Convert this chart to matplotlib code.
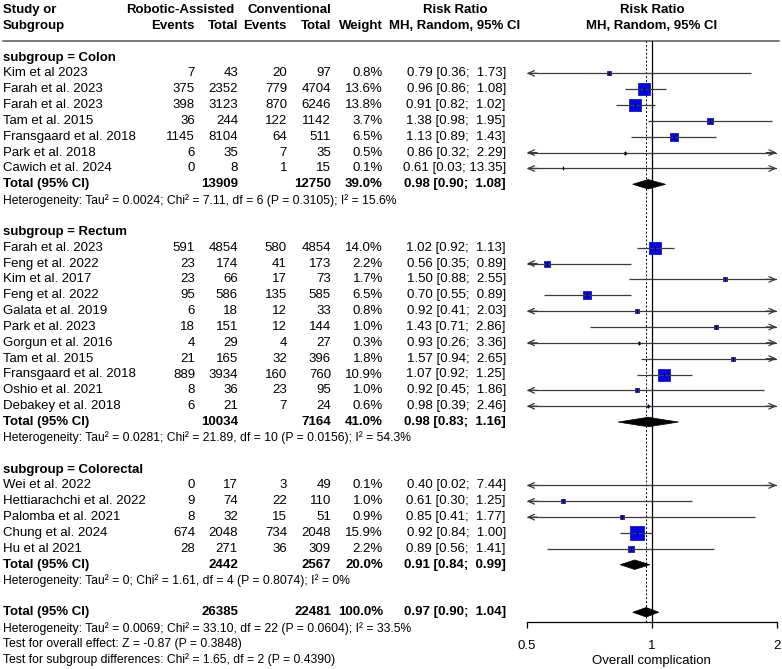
import numpy as np
import matplotlib.pyplot as plt
from matplotlib.patches import Polygon
from matplotlib.ticker import NullLocator, FixedLocator, FixedFormatter

plt.rcParams['font.family'] = ['Liberation Sans', 'DejaVu Sans']

# ───────── DATA ─────────
colon_study  = ["Kim et al 2023", "Farah et al. 2023", "Farah et al. 2023", "Tam et al. 2015",
                "Fransgaard et al. 2018", "Park et al. 2018", "Cawich et al. 2024"]
colon_ev_rob = [7, 375, 398, 36, 1145, 6, 0]
colon_n_rob  = [43, 2352, 3123, 244, 8104, 35, 8]
colon_ev_con = [20, 779, 870, 122, 64, 7, 1]
colon_n_con  = [97, 4704, 6246, 1142, 511, 35, 15]
colon_weight = [0.8, 13.6, 13.8, 3.7, 6.5, 0.5, 0.1]
colon_rr     = [0.79, 0.96, 0.91, 1.38, 1.13, 0.86, 0.61]
colon_lo     = [0.36, 0.86, 0.82, 0.98, 0.89, 0.32, 0.03]
colon_hi     = [1.73, 1.08, 1.02, 1.95, 1.43, 2.29, 13.35]
colon_total  = [13909, 12750, 39.0, 0.98, 0.90, 1.08]
colon_het    = "Heterogeneity: Tau² = 0.0024; Chi² = 7.11, df = 6 (P = 0.3105); I² = 15.6%"

rect_study  = ["Farah et al. 2023", "Feng et al. 2022", "Kim et al. 2017", "Feng et al. 2022",
               "Galata et al. 2019", "Park et al. 2023", "Gorgun et al. 2016", "Tam et al. 2015",
               "Fransgaard et al. 2018", "Oshio et al. 2021", "Debakey et al. 2018"]
rect_ev_rob = [591, 23, 23, 95, 6, 18, 4, 21, 889, 8, 6]
rect_n_rob  = [4854, 174, 66, 586, 18, 151, 29, 165, 3934, 36, 21]
rect_ev_con = [580, 41, 17, 135, 12, 12, 4, 32, 160, 23, 7]
rect_n_con  = [4854, 173, 73, 585, 33, 144, 27, 396, 760, 95, 24]
rect_weight = [14.0, 2.2, 1.7, 6.5, 0.8, 1.0, 0.3, 1.8, 10.9, 1.0, 0.6]
rect_rr     = [1.02, 0.56, 1.50, 0.70, 0.92, 1.43, 0.93, 1.57, 1.07, 0.92, 0.98]
rect_lo     = [0.92, 0.35, 0.88, 0.55, 0.41, 0.71, 0.26, 0.94, 0.92, 0.45, 0.39]
rect_hi     = [1.13, 0.89, 2.55, 0.89, 2.03, 2.86, 3.36, 2.65, 1.25, 1.86, 2.46]
rect_total  = [10034, 7164, 41.0, 0.98, 0.83, 1.16]
rect_het    = "Heterogeneity: Tau² = 0.0281; Chi² = 21.89, df = 10 (P = 0.0156); I² = 54.3%"

cr_study  = ["Wei et al. 2022", "Hettiarachchi et al. 2022", "Palomba et al. 2021",
             "Chung et al. 2024", "Hu et al 2021"]
cr_ev_rob = [0, 9, 8, 674, 28]
cr_n_rob  = [17, 74, 32, 2048, 271]
cr_ev_con = [3, 22, 15, 734, 36]
cr_n_con  = [49, 110, 51, 2048, 309]
cr_weight = [0.1, 1.0, 0.9, 15.9, 2.2]
cr_rr     = [0.40, 0.61, 0.85, 0.92, 0.89]
cr_lo     = [0.02, 0.30, 0.41, 0.84, 0.56]
cr_hi     = [7.44, 1.25, 1.77, 1.00, 1.41]
cr_total  = [2442, 2567, 20.0, 0.91, 0.84, 0.99]
cr_het    = "Heterogeneity: Tau² = 0; Chi² = 1.61, df = 4 (P = 0.8074); I² = 0%"

overall_total = [26385, 22481, 100.0, 0.97, 0.90, 1.04]
overall_notes = ["Heterogeneity: Tau² = 0.0069; Chi² = 33.10, df = 22 (P = 0.0604); I² = 33.5%",
                 "Test for overall effect: Z = -0.87 (P = 0.3848)",
                 "Test for subgroup differences: Chi² = 1.65, df = 2 (P = 0.4390)"]

subgroups = [
    ("subgroup = Colon", colon_study, colon_ev_rob, colon_n_rob, colon_ev_con, colon_n_con,
     colon_weight, colon_rr, colon_lo, colon_hi, colon_total, colon_het),
    ("subgroup = Rectum", rect_study, rect_ev_rob, rect_n_rob, rect_ev_con, rect_n_con,
     rect_weight, rect_rr, rect_lo, rect_hi, rect_total, rect_het),
    ("subgroup = Colorectal", cr_study, cr_ev_rob, cr_n_rob, cr_ev_con, cr_n_con,
     cr_weight, cr_rr, cr_lo, cr_hi, cr_total, cr_het),
]

# ───────── LAYOUT (pixels) ─────────
W, H      = 782, 669
Y0, DY    = 57.5, 15.85          # first row centre, row spacing
FS        = 9.5                  # main text size
FS_SMALL  = 8.7                  # heterogeneity lines
X_NAME    = 3
X_EV1, X_N1, X_EV2, X_N2, X_WT = 195, 238, 287, 331, 383
X_RR      = 506
PLOT_L, PLOT_R = 526.7, 776.7    # 0.5 and 2 on the forest axis
LINE_Y    = 41                   # header rule
AXIS_Y    = 621.7                # forest x axis
XMIN, XMAX = 0.5, 2.0

def row_of(px):
    return (px - Y0) / DY

def rr_text(rr, lo, hi):
    return f"{rr:.2f} [{lo:.2f}; {hi:5.2f}]"

fig = plt.figure(figsize=(W / 100, H / 100), dpi=100)

# text layer covering the whole figure
ax_t = fig.add_axes([0, 0, 1, 1])
ax_t.set_xlim(0, W)
ax_t.set_ylim(row_of(H), row_of(0))
ax_t.axis('off')

# forest layer
ax_f = fig.add_axes([PLOT_L / W, 1 - AXIS_Y / H, (PLOT_R - PLOT_L) / W, (AXIS_Y - LINE_Y) / H])
ax_f.set_xscale('log')
ax_f.set_xlim(XMIN, XMAX)
ax_f.set_ylim(row_of(AXIS_Y), row_of(LINE_Y))
ax_f.patch.set_alpha(0)
for s in ['top', 'left', 'right']:
    ax_f.spines[s].set_visible(False)
ax_f.spines['bottom'].set_linewidth(0.9)
ax_f.set_yticks([])
ax_f.xaxis.set_major_locator(FixedLocator([0.5, 1, 2]))
ax_f.xaxis.set_major_formatter(FixedFormatter(['0.5', '1', '2']))
ax_f.xaxis.set_minor_locator(NullLocator())
ax_f.tick_params(axis='x', direction='out', length=4.5, width=0.9, pad=8.5, labelsize=FS)
ax_f.set_xlabel('Overall complication', fontsize=FS, labelpad=2.2)


def txt(x, r, s, ha='left', bold=False, size=FS):
    ax_t.text(x, r, s, ha=ha, va='center', fontsize=size,
              fontweight='bold' if bold else 'normal', color='black')


def draw_diamond(r, est, lo, hi, h=0.3):
    ax_f.add_patch(Polygon([(lo, r), (est, r - h), (hi, r), (est, r + h)],
                           closed=True, facecolor='black', edgecolor='black', lw=0.5, zorder=4))


def draw_study(r, w, est, lo, hi):
    lo_c, hi_c = max(lo, XMIN), min(hi, XMAX)
    ci_col = '#3a3a3a'
    ax_f.plot([lo_c, hi_c], [r, r], color=ci_col, lw=0.9, zorder=3, solid_capstyle='butt')
    arrow = dict(arrowstyle='->,head_length=0.45,head_width=0.2', color=ci_col, lw=0.9,
                 shrinkA=0, shrinkB=0)
    if lo < XMIN:
        ax_f.annotate('', xy=(XMIN, r), xytext=(XMIN * 1.06, r), arrowprops=arrow,
                      annotation_clip=False)
    if hi > XMAX:
        ax_f.annotate('', xy=(XMAX, r), xytext=(XMAX / 1.06, r), arrowprops=arrow,
                      annotation_clip=False)
    if XMIN <= est <= XMAX:
        side = 3.45 * np.sqrt(w) * 0.72
        ax_f.plot(est, r, marker='s', markersize=side, markerfacecolor='#0000ff',
                  markeredgecolor='#1c1c9c', markeredgewidth=0.6, zorder=2)
        ax_f.plot(est, r, marker='|', markersize=3.5, color='black', mew=0.7, zorder=4)


# ───── header ─────
txt(X_NAME, -3, "Study or", bold=True)
txt(X_NAME, -2, "Subgroup", bold=True)
txt(180, -3, "Robotic-Assisted", ha='center', bold=True)
txt(289, -3, "Conventional", ha='center', bold=True)
txt(X_EV1, -2, "Events", ha='right', bold=True)
txt(X_N1, -2, "Total", ha='right', bold=True)
txt(X_EV2, -2, "Events", ha='right', bold=True)
txt(X_N2, -2, "Total", ha='right', bold=True)
txt(X_WT, -2, "Weight", ha='right', bold=True)
txt(455, -3, "Risk Ratio", ha='center', bold=True)
txt(455, -2, "MH, Random, 95% CI", ha='center', bold=True)
txt(652, -3, "Risk Ratio", ha='center', bold=True)
txt(652, -2, "MH, Random, 95% CI", ha='center', bold=True)
ax_t.plot([3, 779], [row_of(LINE_Y)] * 2, color='#555555', lw=1.1)

# ───── subgroups ─────
r = 0
for (title, study, ev1, n1, ev2, n2, wt, rr, lo, hi, tot, het) in subgroups:
    txt(X_NAME, r, title, bold=True)
    r += 1
    for i in range(len(study)):
        txt(X_NAME, r, study[i])
        txt(X_EV1, r, str(ev1[i]), ha='right')
        txt(X_N1, r, str(n1[i]), ha='right')
        txt(X_EV2, r, str(ev2[i]), ha='right')
        txt(X_N2, r, str(n2[i]), ha='right')
        txt(X_WT, r, f"{wt[i]:.1f}%", ha='right')
        txt(X_RR, r, rr_text(rr[i], lo[i], hi[i]), ha='right')
        draw_study(r, wt[i], rr[i], lo[i], hi[i])
        r += 1
    txt(X_NAME, r, "Total (95% CI)", bold=True)
    txt(X_N1, r, str(tot[0]), ha='right', bold=True)
    txt(X_N2, r, str(tot[1]), ha='right', bold=True)
    txt(X_WT, r, f"{tot[2]:.1f}%", ha='right', bold=True)
    txt(X_RR, r, rr_text(tot[3], tot[4], tot[5]), ha='right', bold=True)
    draw_diamond(r, tot[3], tot[4], tot[5])
    r += 1
    txt(X_NAME, r, het, size=FS_SMALL)
    r += 2

# ───── overall ─────
txt(X_NAME, r, "Total (95% CI)", bold=True)
txt(X_N1, r, str(overall_total[0]), ha='right', bold=True)
txt(X_N2, r, str(overall_total[1]), ha='right', bold=True)
txt(X_WT, r, f"{overall_total[2]:.1f}%", ha='right', bold=True)
txt(X_RR, r, rr_text(*overall_total[3:]), ha='right', bold=True)
draw_diamond(r, *overall_total[3:])
for k, note in enumerate(overall_notes):
    txt(X_NAME, r + 1 + k, note, size=FS_SMALL)

# reference lines
ax_f.axvline(1, color='black', lw=0.9, zorder=1)
ax_f.axvline(overall_total[3], color='black', lw=0.7, ls=(0, (2, 2)), zorder=1)

fig.savefig('out.png', dpi=100)
